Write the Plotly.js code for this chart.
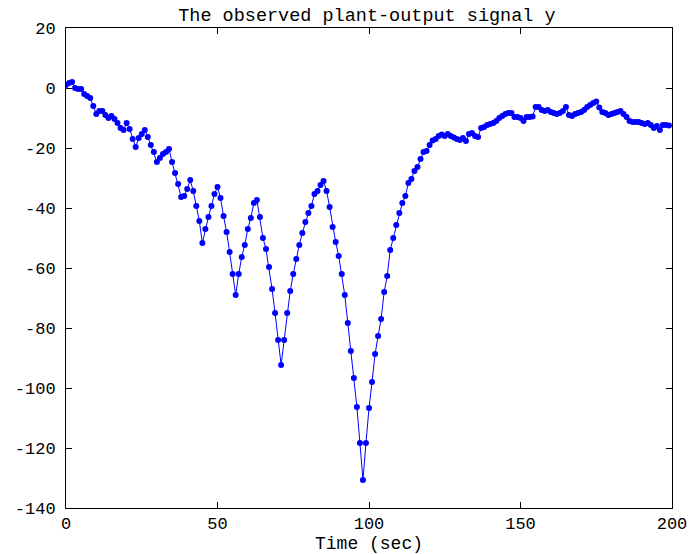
<!DOCTYPE html>
<html>
<head>
<meta charset="utf-8">
<script src="https://cdn.plot.ly/plotly-3.0.1.min.js"></script>
<style>
  html, body { margin: 0; padding: 0; background: #fff; }
  #plot { width: 691px; height: 554px; }
</style>
</head>
<body>
<div id="plot"></div>
<script>
// Sample times (sec), one sample per second
const timeSec = Array.from({length: 200}, (_, i) => i);

// Observed plant output y, samples 0..199
const yOut = [
  1.0, 1.7, 2.0, 0.0, -0.3, -0.3, -2.0, -2.7, -3.3, -6.0,
  -8.7, -7.7, -7.7, -9.0, -10.0, -9.3, -10.3, -11.7, -13.3, -14.0,
  -11.7, -13.7, -17.0, -19.7, -16.7, -15.3, -14.0, -16.3, -19.0, -21.3,
  -24.7, -23.3, -22.0, -21.3, -20.3, -24.7, -28.3, -32.0, -36.3, -36.0,
  -33.7, -30.7, -34.3, -39.3, -44.3, -51.7, -47.0, -43.0, -39.3, -35.3,
  -33.0, -36.7, -42.7, -48.0, -54.7, -62.0, -69.0, -62.0, -56.3, -52.3,
  -47.0, -43.3, -38.3, -37.3, -43.0, -50.0, -53.7, -59.7, -67.0, -75.0,
  -84.0, -92.3, -84.0, -75.0, -67.7, -62.0, -57.0, -52.3, -48.3, -44.7,
  -41.7, -39.3, -35.3, -34.3, -32.3, -31.0, -34.3, -39.7, -46.3, -51.3,
  -56.0, -62.0, -69.0, -78.3, -87.7, -96.7, -106.3, -118.3, -130.7, -118.3,
  -106.7, -98.0, -88.7, -82.7, -77.0, -68.0, -62.7, -54.0, -50.0, -45.7,
  -41.7, -38.3, -36.0, -31.7, -30.3, -27.7, -26.3, -23.7, -21.3, -21.0,
  -19.0, -17.5, -17.0, -16.0, -15.5, -16.0, -15.3, -16.0, -16.5, -17.0,
  -17.3, -16.7, -17.7, -15.3, -15.0, -16.0, -16.3, -13.3, -13.0, -12.3,
  -12.0, -11.7, -11.0, -10.0, -9.3, -8.7, -8.3, -8.3, -9.7, -9.7,
  -10.0, -11.0, -9.7, -9.7, -9.5, -6.3, -6.3, -7.3, -7.7, -7.3,
  -8.0, -8.3, -8.7, -8.3, -7.7, -6.3, -9.0, -9.3, -8.7, -8.3,
  -8.0, -7.3, -6.3, -5.7, -5.0, -4.5, -6.5, -8.0, -8.3, -9.0,
  -8.7, -8.3, -8.0, -7.7, -8.7, -9.7, -11.0, -11.3, -11.3, -11.3,
  -11.7, -12.0, -11.7, -12.3, -13.3, -12.7, -14.0, -12.3, -12.3, -12.5
];

// Axis tick positions
const xTicks = [0, 50, 100, 150, 200];
const yTicks = [20, 0, -20, -40, -60, -80, -100, -120, -140];

const monoFont = 'Liberation Mono, Courier New, monospace';

const trace = {
  x: timeSec,
  y: yOut,
  type: 'scatter',
  mode: 'lines+markers',
  line: { color: '#0000ff', width: 1 },
  marker: { color: '#0000ff', size: 6 },
  hoverinfo: 'x+y'
};

const axisCommon = {
  showline: true,
  linecolor: '#000',
  linewidth: 1,
  mirror: 'ticks',
  ticks: 'inside',
  ticklen: 6,
  tickwidth: 1,
  tickcolor: '#000',
  showgrid: false,
  zeroline: false,
  tickfont: { family: monoFont, size: 17, color: '#000' }
};

const layout = {
  width: 691,
  height: 554,
  margin: { l: 66, r: 19, t: 28, b: 46 },
  paper_bgcolor: '#fff',
  plot_bgcolor: '#fff',
  showlegend: false,
  title: {
    text: 'The observed plant-output signal y',
    font: { family: monoFont, size: 18.5, color: '#000' },
    x: 0.531, xanchor: 'center',
    y: 0.973, yanchor: 'middle'
  },
  xaxis: Object.assign({}, axisCommon, {
    range: [0, 200],
    tickvals: xTicks,
    ticktext: xTicks.map(String),
    ticklabelstandoff: 0,
    title: { text: 'Time (sec)', font: { family: monoFont, size: 18, color: '#000' }, standoff: 3 }
  }),
  yaxis: Object.assign({}, axisCommon, {
    range: [-140, 20],
    tickvals: yTicks,
    ticktext: yTicks.map(String),
    ticklabelstandoff: 6
  })
};

Plotly.newPlot('plot', [trace], layout, { displayModeBar: false, staticPlot: true });
</script>
</body>
</html>
